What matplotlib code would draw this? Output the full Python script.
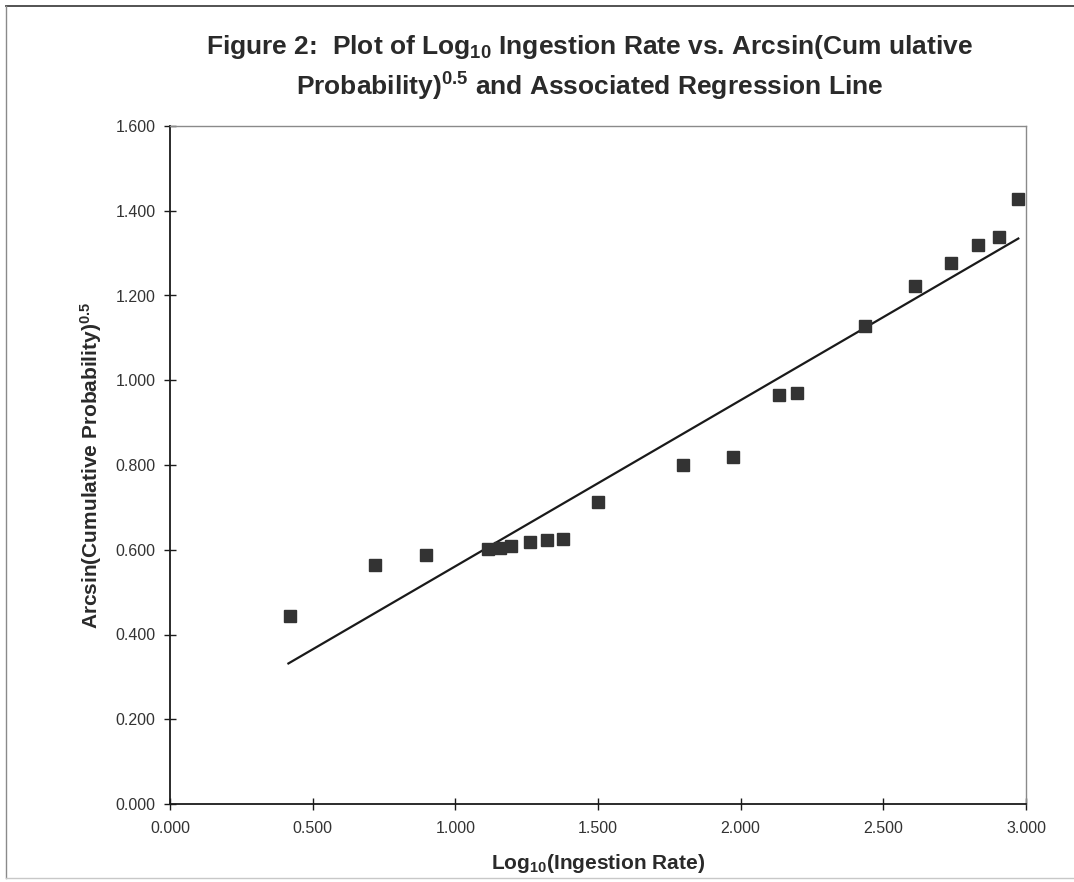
#!/usr/bin/env python3
"""Figure 2: log10 ingestion rate vs arcsin(cumulative probability)^0.5 with regression line."""
import matplotlib
matplotlib.use("Agg")
import matplotlib.pyplot as plt
from matplotlib.lines import Line2D
from matplotlib.ticker import FormatStrFormatter, MultipleLocator
import numpy as np

INK = "#1A1A1A"; MARK = "#333333"; FRAME = "#8A8A8A"
plt.rcParams.update({"font.family": ["Liberation Sans", "DejaVu Sans"],
                     "mathtext.default": "regular", "text.color": INK,
                     "axes.edgecolor": INK, "xtick.color": INK, "ytick.color": INK})

# observed points
log_rate = [0.420, 0.720, 0.897, 1.114, 1.156, 1.194, 1.261, 1.320, 1.377, 1.500,
            1.797, 1.973, 2.134, 2.196, 2.437, 2.611, 2.736, 2.831, 2.907, 2.973]
arcsin_p = [0.443, 0.563, 0.587, 0.601, 0.605, 0.609, 0.618, 0.623, 0.625, 0.712,
            0.799, 0.818, 0.966, 0.970, 1.128, 1.223, 1.277, 1.320, 1.337, 1.428]
# fitted regression
slope = 0.392
intercept = 0.169

fig = plt.figure(figsize=(10.74, 8.82), dpi=100)
ax = fig.add_axes([170/1074, 1-804/882, 856/1074, 678/882])

xs = np.array([min(log_rate) - 0.005, max(log_rate)])
ax.plot(xs, intercept + slope*xs, color=INK, lw=1.6, zorder=2)
ax.plot(log_rate, arcsin_p, ls="none", marker="s", ms=8, mfc=MARK, mec=MARK, zorder=3)

ax.set_xlim(0, 3.0); ax.set_ylim(0, 1.6)
ax.xaxis.set_major_locator(MultipleLocator(0.5))
ax.yaxis.set_major_locator(MultipleLocator(0.2))
ax.xaxis.set_major_formatter(FormatStrFormatter("%.3f"))
ax.yaxis.set_major_formatter(FormatStrFormatter("%.3f"))
ax.tick_params(direction="inout", length=9, width=1.0, labelsize=11.5, pad=6,
               labelcolor="#333333")
ax.tick_params(axis="x", pad=8)
for s in ("top", "right"):
    ax.spines[s].set_linestyle((0, (1, 1)))
    ax.spines[s].set_color(FRAME)
    ax.spines[s].set_linewidth(1.0)
for s in ("left", "bottom"):
    ax.spines[s].set_linewidth(1.3)

ax.set_xlabel("Log$_{10}$(Ingestion Rate)", fontsize=15, fontweight="bold", labelpad=11,
              color="#2A2A2A")
ax.set_ylabel("Arcsin(Cumulative Probability)$^{0.5}$", fontsize=15, fontweight="bold",
              labelpad=8, color="#2A2A2A")

fig.text(590/1074, 1-47/882, "Figure 2:  Plot of Log$_{10}$ Ingestion Rate vs. Arcsin(Cum ulative",
         ha="center", va="center", fontsize=19, fontweight="bold", color="#2A2A2A")
fig.text(590/1074, 1-87/882, "Probability)$^{0.5}$ and Associated Regression Line",
         ha="center", va="center", fontsize=19, fontweight="bold", color="#2A2A2A")

# page frame around the figure
fig.add_artist(Line2D([6/1074, 1], [1-6/882]*2, color="#444444", lw=1.3))
fig.add_artist(Line2D([6/1074]*2, [1-6/882, 1-878/882], color=FRAME, lw=1.0))
fig.add_artist(Line2D([6/1074, 1], [1-878/882]*2, color="#C8C8C8", lw=1.0))

fig.savefig("out.png", dpi=100)
